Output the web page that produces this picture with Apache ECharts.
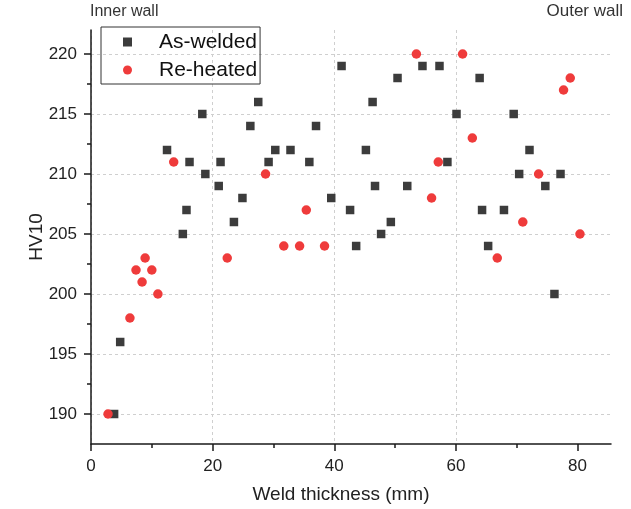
<!DOCTYPE html>
<html>
<head>
<meta charset="utf-8">
<script src="https://cdn.jsdelivr.net/npm/echarts@6/dist/echarts.min.js"></script>
<style>
html, body { margin: 0; padding: 0; background: #fff; }
#chart { width: 631px; height: 509px; }
</style>
</head>
<body>
<div id="chart"></div>
<script>
// hardness readings
var asWeldedX = [3.8, 4.8, 12.5, 15.1, 15.7, 16.2, 18.3, 18.8, 21.0, 21.3, 23.5, 24.9, 26.2, 27.5,
    29.2, 30.3, 32.8, 35.9, 37.0, 39.5, 41.2, 42.6, 43.6, 45.2, 46.3, 46.7, 47.7, 49.3, 50.4,
    52.0, 54.5, 57.3, 58.6, 60.1, 63.9, 64.3, 65.3, 67.9, 69.5, 70.4, 72.1, 74.7, 76.2, 77.2];
var asWeldedY = [190, 196, 212, 205, 207, 211, 215, 210, 209, 211, 206, 208, 214, 216,
    211, 212, 212, 211, 214, 208, 219, 207, 204, 212, 216, 209, 205, 206, 218,
    209, 219, 219, 211, 215, 218, 207, 204, 207, 215, 210, 212, 209, 200, 210];

var reheatedX = [2.8, 6.4, 7.4, 8.4, 8.9, 10.0, 11.0, 13.6, 22.4, 28.7, 31.7, 34.3, 35.4,
    38.4, 53.5, 56.0, 57.1, 61.1, 62.7, 66.8, 71.0, 73.6, 77.7, 78.8, 80.4];
var reheatedY = [190, 198, 202, 201, 203, 202, 200, 211, 203, 210, 204, 204, 207,
    204, 220, 208, 211, 220, 213, 203, 206, 210, 217, 218, 205];

var xTicks = [0, 20, 40, 60, 80];
var xMinorTicks = [10, 30, 50, 70];
var yTicks = [190, 195, 200, 205, 210, 215, 220];
var yMinorTicks = [192.5, 197.5, 202.5, 207.5, 212.5, 217.5];

function zip(xs, ys) {
    return xs.map(function (x, i) { return [x, ys[i]]; });
}

var font = 'Liberation Sans, Arial, sans-serif';
var chart = echarts.init(document.getElementById('chart'));

var option = {
    animation: false,
    textStyle: { fontFamily: font },
    grid: { left: 91, right: 20, top: 30, bottom: 65 },
    legend: {
        left: 101,
        top: 27,
        orient: 'vertical',
        selectedMode: false,
        itemWidth: 9,
        itemHeight: 9,
        itemGap: 0,
        padding: [1, 3, 0, 22],
        borderColor: '#333',
        borderWidth: 1,
        textStyle: { fontSize: 21, lineHeight: 28, color: '#111', fontFamily: font, padding: [0, 0, 0, 22] },
        data: [
            { name: 'As-welded', icon: 'path://M0 0H10V10H0Z' },
            { name: 'Re-heated', icon: 'circle' }
        ]
    },
    graphic: [
        { type: 'text', left: 90, top: 4, style: { text: 'Inner wall', font: '16px ' + font, fill: '#333' } },
        { type: 'text', right: 8, top: 3, style: { text: 'Outer wall', font: '17px ' + font, fill: '#333' } }
    ],
    xAxis: [{
        type: 'value',
        min: 0,
        max: 85.5,
        name: 'Weld thickness (mm)',
        nameLocation: 'middle',
        nameGap: 41,
        nameTextStyle: { fontSize: 19, color: '#222', padding: [0, 20, 0, 0] },
        axisLine: { lineStyle: { color: '#1a1a1a', width: 1.5 } },
        axisTick: { customValues: xTicks, length: 7, lineStyle: { color: '#1a1a1a', width: 1.5 } },
        axisLabel: { customValues: xTicks, fontSize: 17, color: '#222', margin: 14 },
        splitLine: { show: true, showMaxLine: false, lineStyle: { color: '#cfcfcf', type: [3, 3], width: 1 } }
    }, {
        type: 'value',
        min: 0,
        max: 85.5,
        position: 'bottom',
        axisLine: { show: false },
        axisTick: { customValues: xMinorTicks, length: 4, lineStyle: { color: '#1a1a1a', width: 1.5 } },
        axisLabel: { show: false },
        splitLine: { show: false }
    }],
    yAxis: [{
        type: 'value',
        min: 187.5,
        max: 222,
        name: 'HV10',
        nameLocation: 'middle',
        nameGap: 45,
        nameMoveOverlap: false,
        nameTextStyle: { fontSize: 19, color: '#222' },
        axisLine: { show: true, lineStyle: { color: '#1a1a1a', width: 1.5 } },
        axisTick: { show: true, customValues: yTicks, length: 7, lineStyle: { color: '#1a1a1a', width: 1.5 } },
        axisLabel: { customValues: yTicks, fontSize: 17, color: '#222', margin: 14 },
        splitLine: { show: true, lineStyle: { color: '#cfcfcf', type: [3, 3], width: 1 } }
    }, {
        type: 'value',
        min: 187.5,
        max: 222,
        position: 'left',
        axisLine: { show: false },
        axisTick: { show: true, customValues: yMinorTicks, length: 4, lineStyle: { color: '#1a1a1a', width: 1.5 } },
        axisLabel: { show: false },
        splitLine: { show: false }
    }],
    series: [{
        name: 'As-welded',
        type: 'scatter',
        symbol: 'rect',
        symbolSize: 8.5,
        itemStyle: { color: '#3c3c3c', opacity: 1 },
        data: zip(asWeldedX, asWeldedY)
    }, {
        name: 'Re-heated',
        type: 'scatter',
        symbol: 'circle',
        symbolSize: 9.5,
        itemStyle: { color: '#ef3b3b', opacity: 1 },
        data: zip(reheatedX, reheatedY)
    }]
};

chart.setOption(option);
</script>
</body>
</html>
